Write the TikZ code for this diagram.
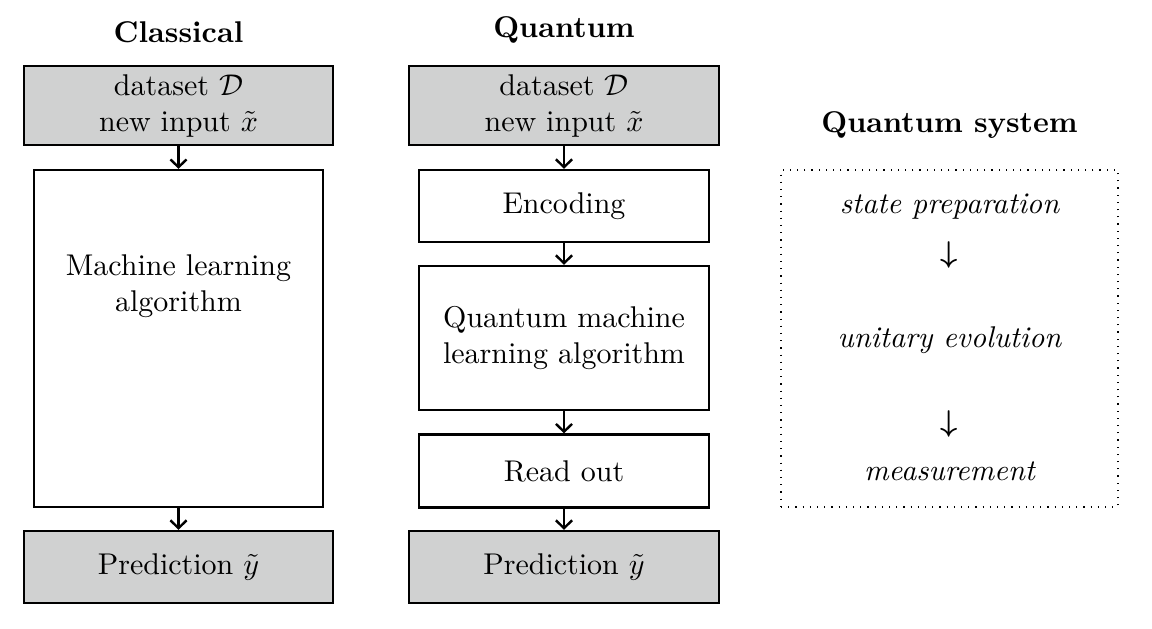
\documentclass[tikz,border=0pt]{standalone}
\usetikzlibrary{arrows.meta,positioning}
\definecolor{boxgray}{RGB}{208,209,209}
\begin{document}
\begin{tikzpicture}[x=0.33333pt,y=-0.33333pt,
  box/.style={draw,line width=0.8pt,align=center,inner sep=0pt},
  graybox/.style={box,fill=boxgray},
  arr/.style={-{Straight Barb[length=2.6pt,width=5.4pt]},line width=0.8pt},
  title/.style={font=\bfseries},
  qtext/.style={font=\itshape,anchor=base},
  darrow/.style={font=\boldmath}]
\useasboundingbox (0,0) rectangle (1152,629);

% Classical column
\node[graybox,minimum width=103pt,minimum height=26.3pt] (C1) at (178.5,105.5) {dataset $\mathcal{D}$\\new input $\tilde{x}$};
\node[box,minimum width=96.3pt,minimum height=112.3pt] (C2) at (178.5,338.5) {};
\node[align=center] (C2t) at (178.5,286) {Machine learning\\algorithm};
\node[graybox,minimum width=103pt,minimum height=24pt] (C3) at (178.5,567) {Prediction $\tilde{y}$};
\node[title,above=3.7pt of C1] (Ct) {Classical};
\draw[arr] (C1.south) -- (C2.north);
\draw[arr] (C2.south) -- (C3.north);

% Quantum column
\node[graybox,minimum width=103.3pt,minimum height=26.3pt] (Q1) at (564,105.5) {dataset $\mathcal{D}$\\new input $\tilde{x}$};
\node[box,minimum width=96.7pt,minimum height=24pt] (Q2) at (564,206) {Encoding};
\node[box,minimum width=96.7pt,minimum height=48pt] (Q3) at (564,338) {Quantum machine\\learning algorithm};
\node[box,minimum width=96.7pt,minimum height=24.3pt] (Q4) at (564,471) {Read out};
\node[graybox,minimum width=103.3pt,minimum height=24pt] (Q5) at (564,567) {Prediction $\tilde{y}$};
\node[title,above=3.7pt of Q1] (Qt) {Quantum};
\draw[arr] (Q1.south) -- (Q2.north);
\draw[arr] (Q2.south) -- (Q3.north);
\draw[arr] (Q3.south) -- (Q4.north);
\draw[arr] (Q4.south) -- (Q5.north);

% Quantum system
\node[title,anchor=base] (St) at (949.5,132) {Quantum system};
\node[draw,dotted,line width=0.4pt,minimum width=112.3pt,minimum height=112.3pt] (S) at (949.5,338.5) {};
\node[qtext] (S1) at (949.5,213) {state preparation};
\node[darrow] (A1) at (949.5,255) {$\downarrow$};
\node[qtext] (S2) at (949.5,347) {unitary evolution};
\node[darrow] (A2) at (949.5,424) {$\downarrow$};
\node[qtext] (S3) at (949.5,480) {measurement};
\end{tikzpicture}
\end{document}
